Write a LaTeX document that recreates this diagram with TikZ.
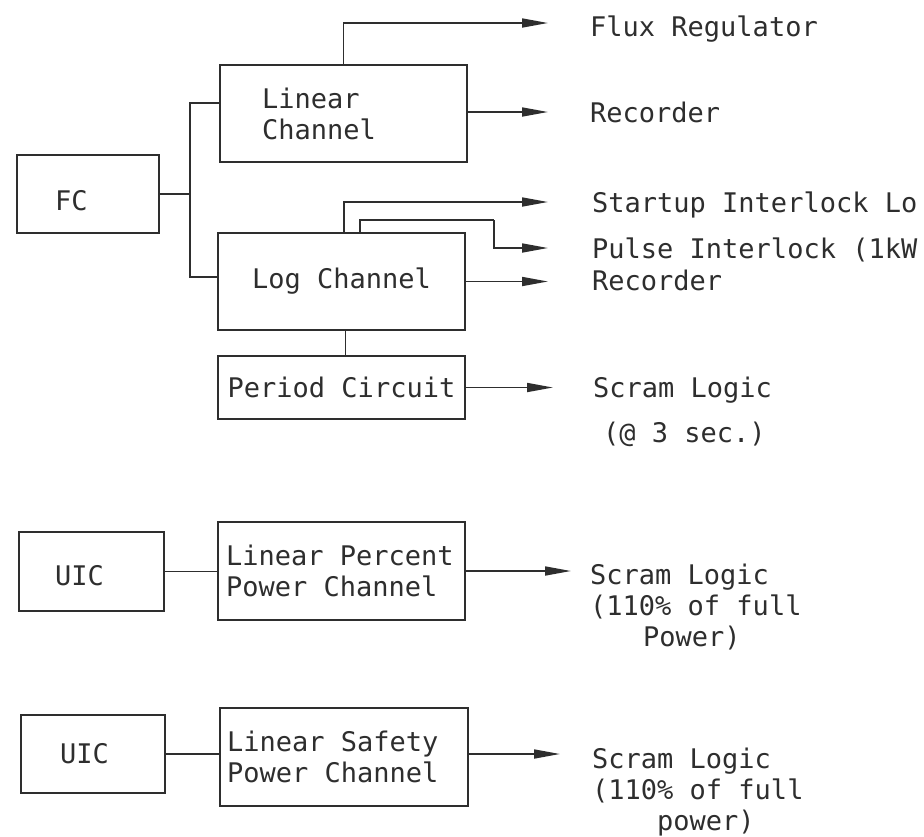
\documentclass[tikz,border=0pt]{standalone}
\usepackage{fontspec}
\setmainfont{DejaVu Sans Mono}
\usetikzlibrary{arrows.meta}
\definecolor{ink}{HTML}{2E2E2E}
\newcommand\diafont{\fontsize{27}{31}\selectfont}
\newcommand\fixsp{\spaceskip=0.602em\relax\xspaceskip=0.602em\relax}
\begin{document}
\begin{tikzpicture}[x=1pt,y=-1pt,
  box/.style={draw=ink, line width=2pt, rectangle, inner ysep=0pt, font=\diafont, text=ink},
  lbl/.style={inner sep=0pt, anchor=base west, font=\diafont, align=left, text=ink},
  wire/.style={draw=ink, line width=1.7pt},
  arr/.style={wire, -{Triangle[length=26pt,width=9pt]}}
]
\fill[white] (0,0) rectangle (924,836);
\useasboundingbox (0,0) rectangle (924,836);

% boxes
\node[box, minimum height=78pt, inner xsep=38pt, text width=66pt, align=flush left,
      text height=32pt, text depth=0pt] (fc) at (88,194) {FC};
\node[box, minimum height=97pt, inner xsep=42pt, text width=163pt, align=flush left] (lin) at (343.5,113.5) {\fixsp Linear\\Channel};
\node[box, minimum height=97pt, inner xsep=7pt, text width=233pt, align=flush center] (log) at (341.5,281.5) {\fixsp Log Channel};
\node[box, minimum height=63pt, inner xsep=7pt, text width=233pt, align=flush center] (per) at (341.5,387.5) {\fixsp Period Circuit};
\node[box, minimum height=79pt, inner xsep=36pt, text width=73pt, align=flush left,
      text height=27pt, text depth=0pt] (uica) at (91.5,571.5) {UIC};
\node[box, minimum height=98pt, inner xsep=8pt, text width=231pt, align=flush left] (lppc) at (341.5,571) {\fixsp Linear Percent\\Power Channel};
\node[box, minimum height=78pt, inner xsep=39pt, text width=66pt, align=flush left] (uicb) at (93,754) {UIC};
\node[box, minimum height=98pt, inner xsep=7pt, text width=234pt, align=flush left] (lspc) at (344,757) {\fixsp Linear Safety\\Power Channel};

% output labels (base anchor = baseline of the last line)
\node[lbl] (flux)  at (590,36)  {Flux Regulator};
\node[lbl] (reca)  at (590,122) {Recorder};
\node[lbl] (start) at (592,212) {Startup Interlock Lo};
\node[lbl] (pulse) at (592,258) {Pulse Interlock (1kW};
\node[lbl] (recb)  at (592,290) {Recorder};
\node[lbl] (scra)  at (593,442) {Scram Logic\\[14pt]\hspace*{10pt}(@ 3 sec.)};
\node[lbl] (scrb)  at (590,646) {Scram Logic\\(110\% of full\\\hspace*{53pt}Power)};
\node[lbl] (scrc)  at (592,830) {Scram Logic\\(110\% of full\\\hspace*{65pt}power)};

% helper coordinates
\coordinate (fluxT)  at (548,23);
\coordinate (recaT)  at (548,112);
\coordinate (sx)     at (344,0);
\coordinate (startT) at (548,202);
\coordinate (px)     at (360,0);
\coordinate (pk)     at (494,220);
\coordinate (pulseT) at (548,248);
\coordinate (recbT)  at (548,281.5);
\coordinate (scraT)  at (553,387.5);
\coordinate (scrbT)  at (571,571);
\coordinate (scrcT)  at (560,754);
\coordinate (bt)     at (190,103);
\coordinate (bb)     at (190,277);

% FC bus
\draw[wire] (fc.east) -- (fc.east -| bt);
\draw[wire] (lin.west |- bt) -- (bt) -- (bb) -- (log.west |- bb);

% linear channel outputs
\draw[arr] (lin.north) |- (fluxT);
\draw[arr] (lin.east |- recaT) -- (recaT);

% log channel outputs
\draw[arr] (sx |- log.north) |- (startT);
\draw[wire, line width=1.2pt] (px |- log.north) |- (pk);
\draw[arr] (pk) |- (pulseT);
\draw[arr] (log.east) -- (recbT);
\draw[wire] ([xshift=4pt]log.south) -- ([xshift=4pt]per.north);
\draw[arr] (per.east) -- (scraT);

% UIC channels
\draw[wire, line width=1.2pt] (uica.east) -- (lppc.west |- uica.east);
\draw[arr] (lppc.east) -- (scrbT);
\draw[wire, line width=1.2pt] (uicb.east) -- (lspc.west |- uicb.east);
\draw[arr] (lspc.east |- scrcT) -- (scrcT);
\end{tikzpicture}
\end{document}
